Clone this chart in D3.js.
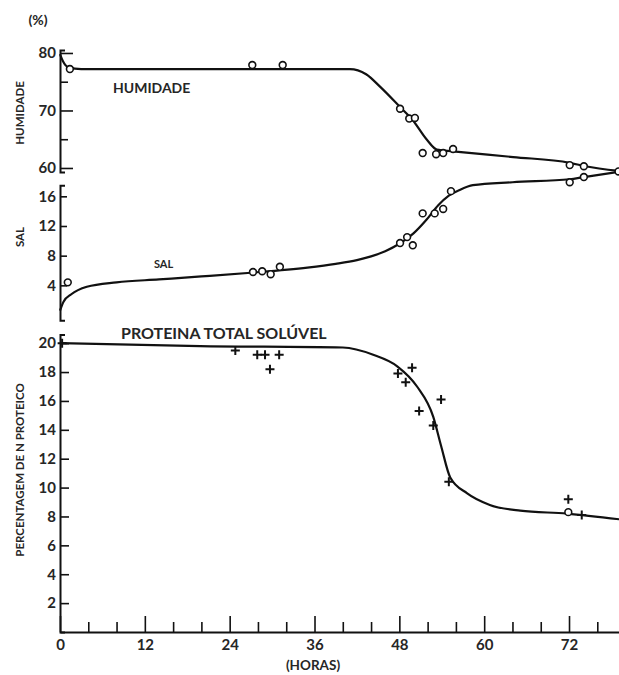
<!DOCTYPE html>
<html>
<head>
<meta charset="utf-8">
<script src="https://cdn.jsdelivr.net/npm/d3@7"></script>
<style>
  html, body { margin: 0; padding: 0; background: #fff; }
  svg { display: block; }
  text { font-family: Lato, "Open Sans", sans-serif; font-weight: 700; fill: #262626; }
</style>
</head>
<body>
<svg id="chart" width="619" height="675"></svg>
<script>
// ---- Data (hours of salting vs. measured values) ----
const hourTicks = [0, 12, 24, 36, 48, 60, 72];
const hourMinorTicks = [4, 8, 16, 20, 28, 32, 40, 44, 52, 56, 64, 68, 76];

// Humidity (%)
const humHours = [1.4, 27.2, 31.5, 48.1, 49.4, 50.2, 51.3, 53.2, 54.2, 55.6, 72.1, 74.1, 79.0];
const humVals  = [77.2, 77.9, 77.9, 70.3, 68.6, 68.7, 62.6, 62.4, 62.6, 63.3, 60.5, 60.3, 59.4];
const humCurveHours = [0, 0.4, 1.2, 3, 20, 41, 43.3, 45.3, 48.1, 49.9, 51.9, 53.3, 55.6, 64.1, 72.1, 74.3, 79];
const humCurveVals  = [79.8, 78.6, 77.5, 77.2, 77.2, 77.2, 76.3, 74.1, 70.6, 68.3, 64.9, 63.2, 62.9, 61.9, 60.9, 60.3, 59.5];
const humTicks = [60, 70, 80];
const humMinorTicks = [65, 75];

// Salt (%)
const salHours = [1.1, 27.3, 28.6, 29.8, 31.1, 48.1, 49.1, 49.9, 51.3, 53.0, 54.2, 55.3, 72.1, 74.1];
const salVals  = [4.4, 5.8, 5.9, 5.5, 6.5, 9.7, 10.5, 9.4, 13.7, 13.7, 14.3, 16.7, 17.9, 18.6];
const salCurveHours = [0, 0.5, 1.6, 3.8, 8, 14, 20, 27, 35, 39, 42, 44, 46, 48, 50, 51.8, 53.5, 55, 56.6, 58.4, 64, 72.1, 74.1, 79];
const salCurveVals  = [0.6, 1.8, 2.8, 3.8, 4.4, 4.8, 5.2, 5.7, 6.4, 6.9, 7.4, 7.9, 8.6, 9.6, 11.0, 12.8, 14.8, 16.1, 16.9, 17.5, 17.9, 18.3, 18.6, 19.3];
const salTicks = [4, 8, 12, 16];

// Total soluble protein (% of protein N)
const protHours = [0.3, 24.8, 27.9, 29.0, 31.0, 29.7, 47.8, 48.9, 49.8, 50.8, 53.9, 52.8, 55.0, 71.9, 73.8];
const protVals  = [20.0, 19.5, 19.2, 19.2, 19.2, 18.2, 17.9, 17.3, 18.3, 15.3, 16.1, 14.3, 10.4, 9.2, 8.1];
const protOpenHours = [71.9];
const protOpenVals  = [8.3];
const protCurveHours = [0, 19.8, 40, 44.3, 47.7, 50.5, 52.8, 53.9, 55.2, 57.6, 60.8, 65.1, 71.7, 79.2];
const protCurveVals  = [20.0, 19.8, 19.7, 19.2, 18.4, 17.0, 14.9, 12.9, 10.7, 9.6, 8.8, 8.4, 8.2, 7.8];
const protTicks = [2, 4, 6, 8, 10, 12, 14, 16, 18, 20];

// ---- Scales ----
const svg = d3.select("#chart");
const x = d3.scaleLinear().domain([0, 79.07]).range([60, 619]);
const yHum  = d3.scaleLinear().domain([59.3, 80.5]).range([172, 50.1]);
const ySal  = d3.scaleLinear().domain([-0.7, 17.5]).range([320.2, 185.2]);
const yProt = d3.scaleLinear().domain([0, 20.6]).range([632, 334.5]);

const toPts = (hs, vs) => hs.map((h, i) => [h, vs[i]]);

// ---- Axes ----
function styleAxis(g) {
  g.select(".domain").attr("stroke", "#111").attr("stroke-width", 2);
  g.selectAll(".tick line").attr("stroke", "#111").attr("stroke-width", 1.6);
  g.selectAll(".tick text").style("font-size", "15px").attr("fill", "#262626");
}

function yAxis(scale, major, minor, majorLen, minorLen) {
  const gMin = svg.append("g").attr("transform", `translate(${x(0)},0)`)
    .call(d3.axisLeft(scale).tickValues(minor).tickFormat("")
      .tickSizeInner(-minorLen).tickSizeOuter(0));
  styleAxis(gMin);
  gMin.select(".domain").remove();
  const g = svg.append("g").attr("transform", `translate(${x(0)},0)`)
    .call(d3.axisLeft(scale).tickValues(major).tickFormat(d3.format("d"))
      .tickSizeInner(-majorLen).tickSizeOuter(-5).tickPadding(4));
  styleAxis(g);
  return g;
}

yAxis(yHum, humTicks, humMinorTicks, 13, 8);
yAxis(ySal, salTicks, [], 7, 0);
yAxis(yProt, protTicks, [], 9, 0);

// Hours axis (ticks pointing up)
const gxMin = svg.append("g").attr("transform", `translate(0,${yProt(0)})`)
  .call(d3.axisBottom(x).tickValues(hourMinorTicks).tickFormat("")
    .tickSizeInner(-10).tickSizeOuter(0));
styleAxis(gxMin);
gxMin.select(".domain").remove();
const gx = svg.append("g").attr("transform", `translate(0,${yProt(0)})`)
  .call(d3.axisBottom(x).tickValues(hourTicks).tickFormat(d3.format("d"))
    .tickSizeInner(-16).tickSizeOuter(0).tickPadding(7));
styleAxis(gx);
gx.selectAll(".tick text").attr("dy", "0.71em");

// ---- Curves ----
function curve(scale, hs, vs) {
  svg.append("path")
    .datum(toPts(hs, vs))
    .attr("fill", "none")
    .attr("stroke", "#111")
    .attr("stroke-width", 2.2)
    .attr("stroke-linejoin", "round")
    .attr("d", d3.line().x(d => x(d[0])).y(d => scale(d[1])).curve(d3.curveMonotoneX));
}
curve(yHum, humCurveHours, humCurveVals);
curve(ySal, salCurveHours, salCurveVals);
curve(yProt, protCurveHours, protCurveVals);

// ---- Markers ----
function circles(scale, hs, vs) {
  svg.append("g").selectAll("circle")
    .data(toPts(hs, vs)).join("circle")
    .attr("cx", d => x(d[0])).attr("cy", d => scale(d[1]))
    .attr("r", 3.4)
    .attr("fill", "#fff").attr("stroke", "#111").attr("stroke-width", 1.6);
}
circles(yHum, humHours, humVals);
circles(ySal, salHours, salVals);
circles(yProt, protOpenHours, protOpenVals);

svg.append("g").selectAll("path")
  .data(toPts(protHours, protVals)).join("path")
  .attr("transform", d => `translate(${x(d[0])},${yProt(d[1])})`)
  .attr("d", "M-4.5,0H4.5M0,-4.5V4.5")
  .attr("stroke", "#111").attr("stroke-width", 2).attr("fill", "none");

// ---- Labels ----
svg.append("text").attr("x", 38).attr("y", 25).attr("text-anchor", "middle")
  .style("font-size", "14px").text("(%)");

svg.append("text").attr("x", 113).attr("y", 93)
  .style("font-size", "14px").text("HUMIDADE");
svg.append("text").attr("x", 154).attr("y", 268)
  .style("font-size", "11px").text("SAL");
svg.append("text").attr("x", 121).attr("y", 339)
  .style("font-size", "16px").text("PROTEINA TOTAL SOLÚVEL");

function yTitle(txt, cy, size) {
  svg.append("text")
    .attr("transform", `translate(24,${cy}) rotate(-90)`)
    .attr("text-anchor", "middle")
    .style("font-size", size + "px")
    .text(txt);
}
yTitle("HUMIDADE", 113, 11.5);
yTitle("SAL", 237, 11.5);
yTitle("PERCENTAGEM DE N PROTEICO", 470, 11.5);

svg.append("text").attr("x", 313).attr("y", 670).attr("text-anchor", "middle")
  .style("font-size", "13.5px").text("(HORAS)");
</script>
</body>
</html>
